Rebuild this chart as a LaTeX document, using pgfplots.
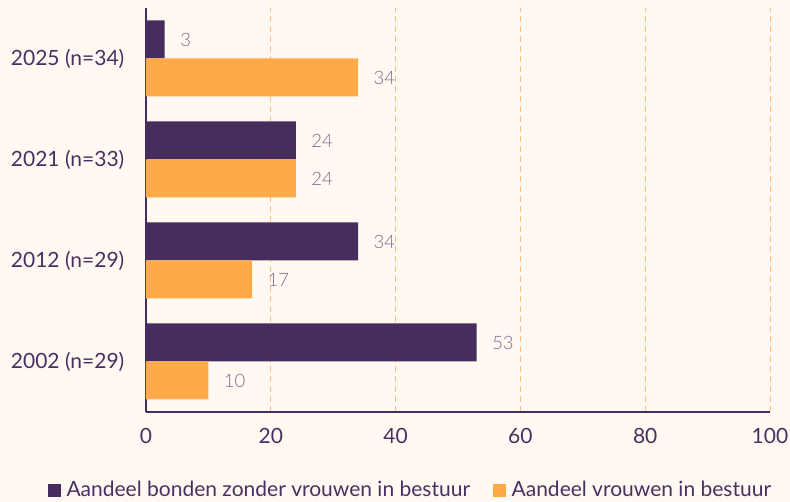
\documentclass[border=0pt]{standalone}
\usepackage{pgfplots}
\pgfplotsset{compat=1.18}
\usepackage{fontspec}
\setmainfont{Lato}
\newfontfamily\lightfont{Lato Light}
\definecolor{bgc}{HTML}{FFF9F1}
\definecolor{paars}{HTML}{472C5E}
\definecolor{oranje}{HTML}{FFAA48}
\definecolor{gridc}{HTML}{FFC27E}
\definecolor{txt}{HTML}{4A3062}
\definecolor{valc}{HTML}{7C6A8E}
\begin{document}
\begin{tikzpicture}
  \path[use as bounding box, fill=bgc] (0,0) rectangle (790pt,502pt);
  \begin{axis}[
    at={(146pt,90pt)}, anchor=south west,
    scale only axis,
    width=624pt, height=404pt,
    xbar, bar width=38pt,
    xmin=0, xmax=100,
    ymin=-0.5, ymax=3.5,
    xtick={0,20,...,100},
    ytick={0,1,2,3},
    yticklabels={2002 (n=29),2012 (n=29),2021 (n=33),2025 (n=34)},
    axis x line=bottom, axis y line=left,
    axis line style={-, draw=paars, line width=1.3pt},
    tick style={draw=none},
    xmajorgrids,
    grid style={gridc, line width=1pt, dash pattern=on 6pt off 4pt},
    ticklabel style={font=\fontsize{21}{24}\selectfont, text=txt},
    /pgf/number format/assume math mode=true,
    xticklabel style={yshift=-11pt},
    yticklabel style={xshift=-16pt},
    nodes near coords,
    nodes near coords style={anchor=west, xshift=12pt,
      font=\lightfont\fontsize{18.5}{21}\selectfont, text=valc},
    legend style={at={(0.424,-0.193)}, anchor=center, draw=none, fill=none,
      legend columns=2, font=\fontsize{21}{24}\selectfont, text=txt,
      /tikz/every even column/.append style={column sep=21pt}},
    legend image code/.code={\fill[#1] (0pt,-7pt) rectangle (12.5pt,5.5pt);
      \path (0pt,0pt) -- (16.5pt,0pt);},
  ]
    \addplot[draw=none, fill=paars, bar shift=19pt]
      coordinates {(53,0) (34,1) (24,2) (3,3)};
    \addplot[draw=none, fill=oranje, bar shift=-19pt]
      coordinates {(10,0) (17,1) (24,2) (34,3)};
    \legend{Aandeel bonden zonder vrouwen in bestuur, Aandeel vrouwen in bestuur}
  \end{axis}
\end{tikzpicture}
\end{document}
